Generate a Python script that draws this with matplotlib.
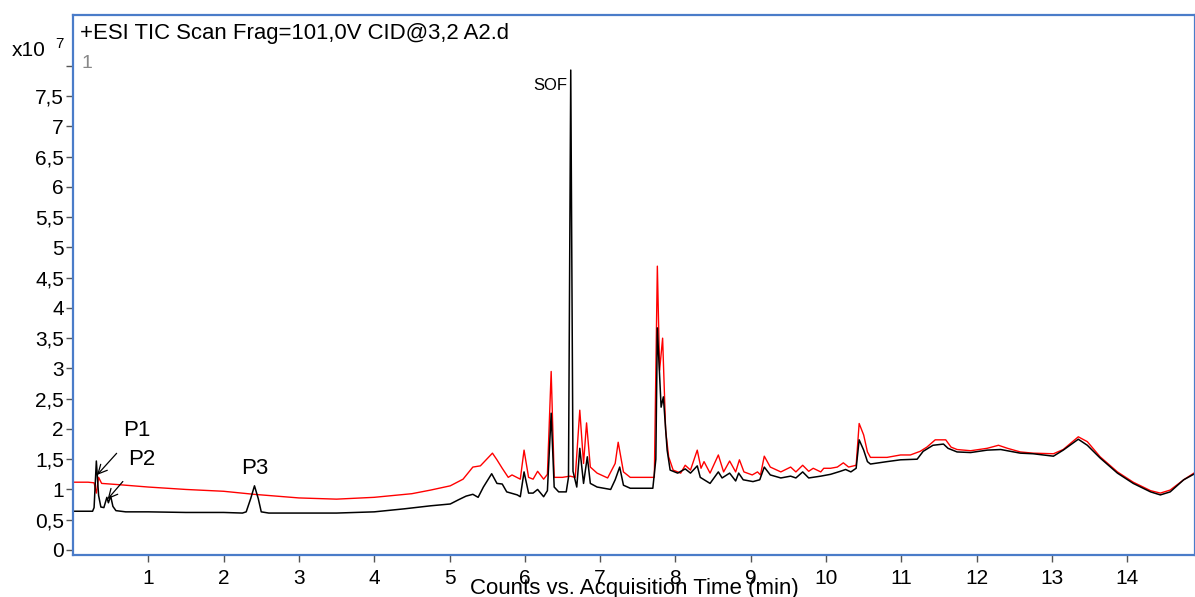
import matplotlib
matplotlib.use("Agg")
import matplotlib.pyplot as plt
from matplotlib.ticker import FuncFormatter

plt.rcParams['font.family'] = ['Liberation Sans', 'DejaVu Sans']

# ---- data (time in min, counts in x10^7) ----
t_black = [0.00, 0.26, 0.28, 0.31, 0.34, 0.37, 0.41, 0.45, 0.47, 0.50, 0.53, 0.57, 0.70,
           1.00, 1.50, 2.00, 2.25, 2.30, 2.36, 2.41, 2.46, 2.50, 2.60, 3.00, 3.50, 4.00,
           4.40, 4.75, 5.01, 5.12, 5.22, 5.31, 5.38, 5.45, 5.56, 5.63, 5.70, 5.76, 5.90,
           5.94, 5.99, 6.05, 6.11, 6.17, 6.25, 6.30, 6.35, 6.39, 6.45, 6.55, 6.58, 6.61,
           6.64, 6.69, 6.73, 6.78, 6.83, 6.87, 6.96, 7.14, 7.20, 7.26, 7.31, 7.40, 7.50,
           7.70, 7.74, 7.76, 7.81, 7.84, 7.89, 7.93, 8.03, 8.13, 8.20, 8.29, 8.33, 8.46,
           8.57, 8.62, 8.72, 8.80, 8.84, 8.90, 9.03, 9.12, 9.18, 9.26, 9.40, 9.53, 9.60,
           9.69, 9.77, 9.93, 10.06, 10.19, 10.26, 10.33, 10.40, 10.44, 10.50, 10.55, 10.59,
           10.81, 10.99, 11.21, 11.29, 11.42, 11.56, 11.62, 11.74, 11.92, 12.14, 12.32,
           12.58, 12.75, 13.02, 13.15, 13.35, 13.47, 13.64, 13.87, 14.08, 14.31, 14.44,
           14.57, 14.75, 14.91]
v_black = [0.64, 0.64, 0.70, 1.47, 0.90, 0.71, 0.70, 0.87, 0.78, 0.89, 0.72, 0.65, 0.63,
           0.63, 0.62, 0.62, 0.61, 0.63, 0.85, 1.06, 0.85, 0.63, 0.61, 0.61, 0.61, 0.63,
           0.68, 0.73, 0.76, 0.83, 0.89, 0.92, 0.87, 1.04, 1.26, 1.10, 1.09, 0.96, 0.91,
           0.88, 1.29, 0.94, 0.94, 1.00, 0.88, 0.98, 2.26, 1.04, 0.96, 0.96, 1.20, 7.93,
           1.30, 1.04, 1.68, 1.10, 1.54, 1.10, 1.04, 1.00, 1.16, 1.37, 1.07, 1.02, 1.02,
           1.02, 1.50, 3.67, 2.36, 2.53, 1.65, 1.32, 1.27, 1.34, 1.27, 1.39, 1.20, 1.10,
           1.29, 1.19, 1.27, 1.14, 1.27, 1.16, 1.13, 1.16, 1.37, 1.24, 1.19, 1.22, 1.19,
           1.29, 1.19, 1.22, 1.25, 1.30, 1.33, 1.29, 1.35, 1.82, 1.65, 1.46, 1.42,
           1.46, 1.49, 1.50, 1.63, 1.73, 1.75, 1.68, 1.62, 1.61, 1.65, 1.66,
           1.60, 1.59, 1.55, 1.65, 1.83, 1.73, 1.52, 1.27, 1.10, 0.96, 0.91,
           0.96, 1.16, 1.27]

t_red = [0.00, 0.20, 0.28, 0.31, 0.34, 0.38, 0.60, 1.00, 1.50, 2.00, 2.40, 3.00, 3.50,
         4.00, 4.50, 4.75, 5.01, 5.18, 5.31, 5.41, 5.57, 5.63, 5.70, 5.78, 5.83, 5.94,
         5.99, 6.05, 6.11, 6.17, 6.25, 6.30, 6.35, 6.39, 6.50, 6.60, 6.67, 6.73, 6.78,
         6.82, 6.87, 6.96, 7.10, 7.20, 7.24, 7.31, 7.40, 7.72, 7.76, 7.79, 7.83, 7.87,
         7.91, 7.97, 8.07, 8.13, 8.20, 8.29, 8.34, 8.38, 8.46, 8.57, 8.64, 8.72, 8.80,
         8.85, 8.91, 9.02, 9.09, 9.13, 9.18, 9.26, 9.40, 9.53, 9.60, 9.69, 9.77, 9.83,
         9.93, 9.97, 10.06, 10.15, 10.23, 10.30, 10.40, 10.44, 10.50, 10.55, 10.59, 10.81,
         10.99, 11.12, 11.25, 11.34, 11.45, 11.59, 11.66, 11.74, 11.92, 12.14, 12.29,
         12.41, 12.58, 12.75, 13.02, 13.15, 13.35, 13.47, 13.64, 13.87, 14.08, 14.31,
         14.44, 14.57, 14.75, 14.91]
v_red = [1.12, 1.12, 1.11, 0.94, 1.20, 1.10, 1.08, 1.04, 1.00, 0.97, 0.92, 0.86, 0.84,
         0.87, 0.93, 0.99, 1.06, 1.17, 1.37, 1.39, 1.60, 1.49, 1.35, 1.20, 1.24, 1.17,
         1.65, 1.20, 1.17, 1.30, 1.17, 1.25, 2.95, 1.20, 1.20, 1.22, 1.20, 2.31, 1.43,
         2.10, 1.37, 1.27, 1.19, 1.43, 1.78, 1.29, 1.20, 1.20, 4.69, 2.97, 3.50, 1.98,
         1.54, 1.32, 1.27, 1.40, 1.32, 1.65, 1.35, 1.46, 1.27, 1.57, 1.29, 1.47, 1.29,
         1.49, 1.29, 1.24, 1.29, 1.24, 1.55, 1.37, 1.29, 1.37, 1.29, 1.40, 1.30, 1.35,
         1.29, 1.35, 1.35, 1.37, 1.44, 1.37, 1.40, 2.09, 1.90, 1.62, 1.53, 1.53,
         1.57, 1.57, 1.63, 1.70, 1.82, 1.82, 1.70, 1.66, 1.64, 1.68, 1.73,
         1.68, 1.62, 1.60, 1.59, 1.66, 1.87, 1.79, 1.54, 1.29, 1.12, 0.98,
         0.94, 0.99, 1.16, 1.29]

x_ticks = list(range(1, 15))
y_ticks = [0, 0.5, 1, 1.5, 2, 2.5, 3, 3.5, 4, 4.5, 5, 5.5, 6, 6.5, 7, 7.5, 8]

title = "+ESI TIC Scan Frag=101,0V CID@3,2 A2.d"
xlabel = "Counts vs. Acquisition Time (min)"

W, H = 1195, 597
fig = plt.figure(figsize=(W / 100, H / 100), dpi=100)

def fx(px):
    return px / W

def fy(py):
    return 1 - py / H

ax = fig.add_axes([fx(73), fy(555), fx(1195) - fx(73), fy(15) - fy(555)])
ax.set_xlim(0, 14.9)
ax.set_ylim(-0.083, 8.84)

ax.plot(t_red, v_red, color='#ff0000', lw=1.0)
ax.plot(t_black, v_black, color='#000000', lw=1.1)

blue = '#4a7cc9'
for s in ax.spines.values():
    s.set_color(blue)
    s.set_linewidth(1.6)

ax.set_xticks(x_ticks)
ax.set_yticks(y_ticks)
ax.yaxis.set_major_formatter(FuncFormatter(
    lambda v, p: '' if v >= 8 else ('%g' % v).replace('.', ',')))
ax.tick_params(axis='both', labelsize=15, length=5, width=1, color='#555555',
               direction='out')
ax.tick_params(axis='y', pad=1.5)
ax.tick_params(axis='x', pad=5)

ax.set_xlabel(xlabel, fontsize=16, labelpad=-7)

# header text inside frame
fig.text(fx(80), fy(33), title, fontsize=15.9, va='center', ha='left')
fig.text(fx(82), fy(64), '1', fontsize=14, color='#888888', va='center', ha='left')
fig.text(fx(12), fy(50), 'x10', fontsize=15, va='center', ha='left')
fig.text(fx(55), fy(44), '7', fontsize=11, va='center', ha='left')

# peak labels
ax.annotate('P1', xy=(0.32, 1.24), xytext=(0.85, 1.97), fontsize=16,
            ha='center', va='center',
            arrowprops=dict(arrowstyle='->', color='black', lw=0.9,
                            shrinkA=9, shrinkB=0))
ax.annotate('P2', xy=(0.46, 0.84), xytext=(0.91, 1.49), fontsize=16,
            ha='center', va='center',
            arrowprops=dict(arrowstyle='->', color='black', lw=0.9,
                            shrinkA=8, shrinkB=0))
ax.text(2.41, 1.34, 'P3', fontsize=16, ha='center', va='center')
ax.text(6.57, 7.67, 'SOF', fontsize=12, ha='right', va='center')

fig.savefig('out.png', dpi=100)
